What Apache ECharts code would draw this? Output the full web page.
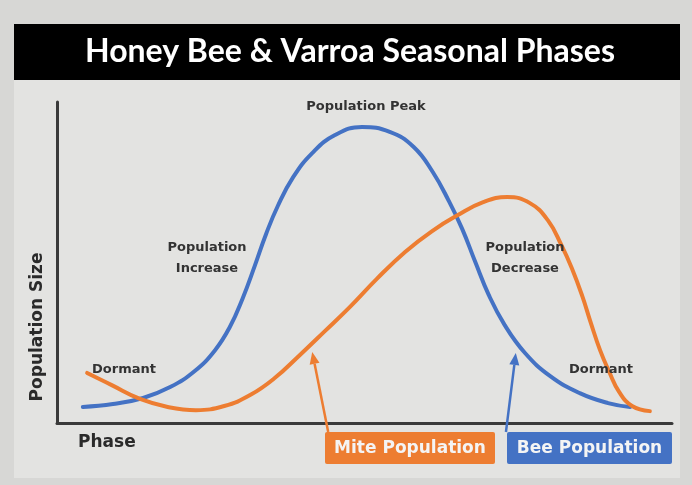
<!DOCTYPE html>
<html>
<head>
<meta charset="utf-8">
<script src="https://cdn.jsdelivr.net/npm/echarts@6/dist/echarts.min.js"></script>
<style>
html,body{margin:0;padding:0;background:#d7d7d5;}
#chart{width:692px;height:485px;}
</style>
</head>
<body>
<div id="chart"></div>
<script>
// ---- data (phase position 0-100, relative population size 0-100) ----
const chartTitle = 'Honey Bee & Varroa Seasonal Phases';
const xAxisName = 'Phase';
const yAxisName = 'Population Size';
const seriesNames = ['Mite Population', 'Bee Population'];

const phaseBee = [4.2, 9.1, 14.0, 18.4, 22.4, 25.7, 28.1, 30.2, 32.2, 34.0, 35.9, 38.4, 41.5, 45.2, 49.6, 54.1, 58.0, 61.1, 63.7, 65.9, 68.0, 70.2, 72.8, 76.1, 80.2, 85.0, 89.6, 93.2];
const beeSize  = [5.0, 5.9, 7.8, 11.2, 16.2, 22.7, 29.9, 38.9, 49.2, 58.9, 67.6, 76.6, 84.1, 89.7, 92.2, 90.7, 86.0, 78.2, 69.2, 60.4, 50.2, 39.9, 30.5, 21.8, 14.6, 9.3, 6.2, 5.0];

const phaseMite = [4.9, 8.9, 13.5, 18.0, 22.6, 27.2, 31.4, 35.4, 39.5, 43.6, 47.6, 52.0, 56.6, 61.0, 65.2, 69.3, 73.2, 76.9, 79.8, 82.0, 83.7, 85.4, 86.8, 88.3, 89.8, 91.4, 93.5, 96.4];
const miteSize  = [15.6, 11.8, 7.5, 5.0, 4.0, 5.3, 8.7, 14.0, 21.2, 28.7, 36.1, 44.9, 53.3, 59.8, 64.8, 68.8, 70.4, 68.5, 63.2, 55.5, 48.3, 39.6, 31.2, 22.7, 15.9, 9.7, 5.3, 3.7];

const phaseLabels = ['Dormant', 'Population\nIncrease', 'Population Peak', 'Population\nDecrease', 'Dormant'];

// ---- layout / style ----
const BLUE = '#4472c4';
const ORANGE = '#ed7d31';
const TXT = '#333333';

const chart = echarts.init(document.getElementById('chart'), null, {renderer: 'canvas'});

const annFont = {fontFamily: 'DejaVu Sans', fontWeight: 'bold', fontSize: 13, fill: TXT, lineHeight: 21};
const annPos = [[124, 370], [207, 258], [366, 107], [525, 258], [601, 370]];

const graphics = [
  {type: 'rect', z: -10, silent: true, shape: {x: 14, y: 80, width: 666, height: 398}, style: {fill: '#e3e3e1'}},
  {type: 'rect', z: -10, silent: true, shape: {x: 14, y: 24, width: 666, height: 56}, style: {fill: '#000000'}},
  {type: 'text', z: 10, x: 350, y: 52, style: {text: chartTitle, fontFamily: 'Lato', fontWeight: 'bold', fontSize: 32, fill: '#ffffff', align: 'center', verticalAlign: 'middle'}},
  {type: 'text', z: 10, x: 78, y: 443, style: {text: xAxisName, fontFamily: 'DejaVu Sans', fontWeight: 'bold', fontSize: 17, fill: '#2a2a2a', align: 'left', verticalAlign: 'middle'}},
  {type: 'text', z: 10, x: 38, y: 327, rotation: Math.PI / 2, style: {text: yAxisName, fontFamily: 'DejaVu Sans', fontWeight: 'bold', fontSize: 17, fill: '#2a2a2a', align: 'center', verticalAlign: 'middle'}}
];
phaseLabels.forEach((t, i) => {
  graphics.push({type: 'text', z: 10, x: annPos[i][0], y: annPos[i][1], style: Object.assign({text: t, align: 'center', verticalAlign: 'middle'}, annFont)});
});
// legend boxes
const boxes = [
  {name: seriesNames[0], color: ORANGE, x: 325, w: 170},
  {name: seriesNames[1], color: BLUE, x: 507, w: 165}
];
boxes.forEach(b => {
  graphics.push({type: 'rect', z: 10, shape: {x: b.x, y: 432, width: b.w, height: 32, r: 2}, style: {fill: b.color}});
  graphics.push({type: 'text', z: 11, x: b.x + b.w / 2, y: 449, style: {text: b.name, fontFamily: 'DejaVu Sans', fontWeight: 'bold', fontSize: 17, fill: '#f4f4f4', align: 'center', verticalAlign: 'middle'}});
});

const option = {
  backgroundColor: '#d7d7d5',
  animation: false,
  grid: {left: 57, right: 20, top: 102, bottom: 62, containLabel: false},
  xAxis: {
    type: 'value', min: 0, max: 100,
    axisLine: {show: true, onZero: false, lineStyle: {color: '#3a3a3a', width: 3}},
    axisTick: {show: false}, axisLabel: {show: false}, splitLine: {show: false}
  },
  yAxis: {
    type: 'value', min: 0, max: 100,
    axisLine: {show: true, onZero: false, lineStyle: {color: '#3a3a3a', width: 3}},
    axisTick: {show: false}, axisLabel: {show: false}, splitLine: {show: false}
  },
  series: [
    {
      name: seriesNames[0], type: 'line', smooth: 0.45, symbol: 'none', z: 3,
      data: phaseMite.map((x, i) => [x, miteSize[i]]),
      lineStyle: {color: ORANGE, width: 4, cap: 'round'}
    },
    {
      name: seriesNames[1], type: 'line', smooth: 0.45, symbol: 'none', z: 2,
      data: phaseBee.map((x, i) => [x, beeSize[i]]),
      lineStyle: {color: BLUE, width: 4, cap: 'round'}
    }
  ],
  graphic: graphics
};
chart.setOption(option);

// arrows from the label boxes to the curves (annotation anchors in data space)
const arrows = [
  {color: ORANGE, from: [44.1, -2.8], to: [41.5, 22.1]},
  {color: BLUE, from: [73.0, -2.8], to: [74.6, 21.8]}
];
const arrowEls = [];
arrows.forEach(a => {
  const p0 = chart.convertToPixel({gridIndex: 0}, a.from);
  const p1 = chart.convertToPixel({gridIndex: 0}, a.to);
  const dx = p1[0] - p0[0], dy = p1[1] - p0[1];
  const len = Math.sqrt(dx * dx + dy * dy);
  const ux = dx / len, uy = dy / len;
  const hl = 12, hw = 5;
  const bx = p1[0] - ux * hl, by = p1[1] - uy * hl;
  arrowEls.push({type: 'line', z: 9, shape: {x1: p0[0], y1: p0[1], x2: bx, y2: by}, style: {stroke: a.color, lineWidth: 2.5}});
  arrowEls.push({type: 'polygon', z: 9, shape: {points: [[p1[0], p1[1]], [bx - uy * hw, by + ux * hw], [bx + uy * hw, by - ux * hw]]}, style: {fill: a.color}});
});
chart.setOption({graphic: graphics.concat(arrowEls)});
</script>
</body>
</html>
